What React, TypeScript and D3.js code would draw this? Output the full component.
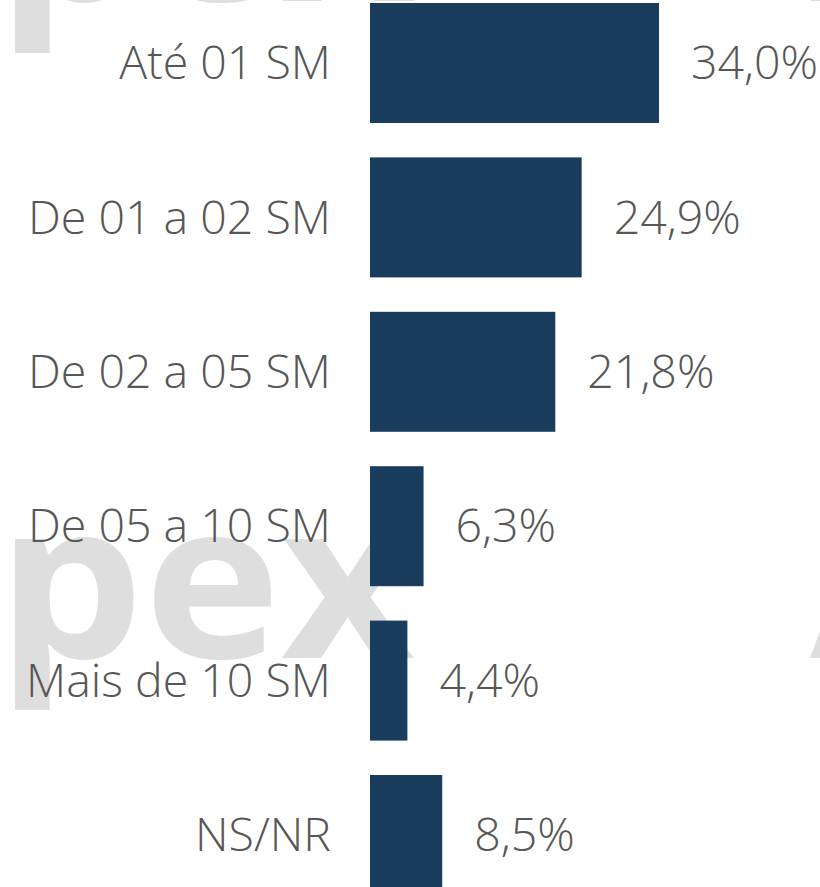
import React from "react";
import * as d3 from "d3";

const categories = ["Até 01 SM", "De 01 a 02 SM", "De 02 a 05 SM", "De 05 a 10 SM", "Mais de 10 SM", "NS/NR"];
const values = [34.0, 24.9, 21.8, 6.3, 4.4, 8.5];
const valueLabels = ["34,0%", "24,9%", "21,8%", "6,3%", "4,4%", "8,5%"];

const W = 820;
const H = 887;
const BAR_X = 370;

export default function App() {
  const x = d3.scaleLinear().domain([0, 34]).range([0, 289]);
  const y = d3
    .scaleBand<string>()
    .domain(categories)
    .range([3, 3 + 6 * 154.4 - 34.4])
    .paddingInner(34.4 / 154.4)
    .paddingOuter(0);

  const wmStyle: React.CSSProperties = {
    fontFamily: "'Open Sans', sans-serif",
    fontWeight: 700,
    fontSize: 218,
    fill: "#dedede",
  };
  const labelStyle: React.CSSProperties = {
    fontFamily: "'Open Sans', sans-serif",
    fontWeight: 350,
    fontSize: 46.5,
    fill: "#575757",
  };

  const rows = [1, 658];

  return (
    <svg
      width={W}
      height={H}
      style={{ position: "absolute", left: 0, top: 0, display: "block", background: "#fff" }}
    >
      <g>
        {rows.map((b) => (
          <g key={b}>
            <text transform={`translate(-3,${b}) scale(1.064,1)`} style={wmStyle}>pex</text>
            <text transform={`translate(810,${b}) scale(1.064,1)`} style={wmStyle}>A</text>
          </g>
        ))}
      </g>
      <g>
        {categories.map((c, i) => {
          const yy = y(c)!;
          const bw = y.bandwidth();
          const cy = yy + bw / 2;
          return (
            <g key={c}>
              <rect x={BAR_X} y={yy} width={x(values[i])} height={bw} fill="#1a3c5d" />
              <text x={331} y={cy} dy="0.35em" textAnchor="end" style={labelStyle}>
                {c}
              </text>
              <text x={BAR_X + x(values[i]) + 32} y={cy} dy="0.35em" textAnchor="start" style={labelStyle}>
                {valueLabels[i]}
              </text>
            </g>
          );
        })}
      </g>
    </svg>
  );
}
